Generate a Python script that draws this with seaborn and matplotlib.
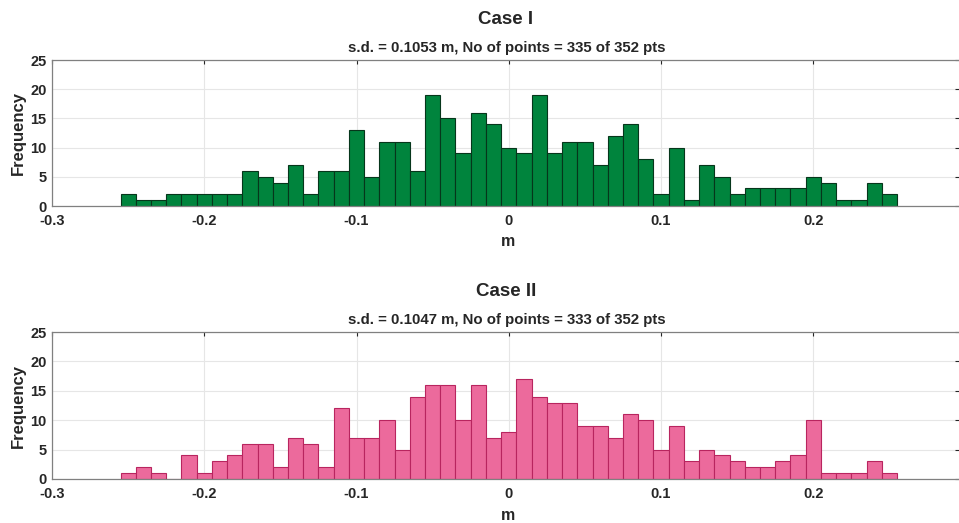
import numpy as np
import pandas as pd
import matplotlib
matplotlib.use("Agg")
import matplotlib.pyplot as plt
import seaborn as sns

# ---- data ----
bin_edges = [round(-0.255 + 0.01 * k, 4) for k in range(52)]
case1_counts = [2, 1, 1, 2, 2, 2, 2, 2, 6, 5, 4, 7, 2, 6, 6, 13, 5, 11, 11, 6,
                19, 15, 9, 16, 14, 10, 9, 19, 9, 11, 11, 7, 12, 14, 8, 2, 10, 1,
                7, 5, 2, 3, 3, 3, 3, 5, 4, 1, 1, 4, 2]
case2_counts = [1, 2, 1, 0, 4, 1, 3, 4, 6, 6, 2, 7, 6, 2, 12, 7, 7, 10, 5, 14,
                16, 16, 10, 16, 7, 8, 17, 14, 13, 13, 9, 9, 7, 11, 10, 5, 9, 3,
                5, 4, 3, 2, 2, 3, 4, 10, 1, 1, 1, 3, 1]
titles = ["Case I", "Case II"]
subtitles = ["s.d. = 0.1053 m, No of points = 335 of 352 pts",
             "s.d. = 0.1047 m, No of points = 333 of 352 pts"]
x_ticks = [-0.3, -0.2, -0.1, 0, 0.1, 0.2]
x_tick_labels = ["-0.3", "-0.2", "-0.1", "0", "0.1", "0.2"]
y_ticks = [0, 5, 10, 15, 20, 25]

edges = np.array(bin_edges)
centers = (edges[:-1] + edges[1:]) / 2
df1 = pd.DataFrame({"m": centers, "count": case1_counts})
df2 = pd.DataFrame({"m": centers, "count": case2_counts})

sns.set_style("white")
plt.rcParams['font.family'] = ['Liberation Sans', 'DejaVu Sans']
plt.rcParams['font.weight'] = 'bold'

fig = plt.figure(figsize=(9.59, 5.23), dpi=100)
W, H = 959, 523

def px_axes(left, top, right, bottom):
    return fig.add_axes([left / W, 1 - bottom / H, (right - left) / W, (bottom - top) / H])

ax1 = px_axes(52, 60, 959, 206)
ax2 = px_axes(52, 332, 959, 479)

specs = [
    (ax1, df1, "#00843D", "#06361B", 0, 60, 206),
    (ax2, df2, "#EC6A9C", "#B8255F", 1, 332, 479),
]

for ax, df, fc, ec, i, top, bottom in specs:
    sns.histplot(data=df, x="m", weights="count", bins=list(bin_edges), ax=ax,
                 color=fc, edgecolor=ec, linewidth=0.8, alpha=1.0)
    ax.set_xlim(-0.3, 0.2957)
    ax.set_ylim(0, 25)
    ax.set_xticks(x_ticks)
    ax.set_xticklabels(x_tick_labels)
    ax.set_yticks(y_ticks)
    ax.grid(True, color="#e6e6e6", linewidth=0.8)
    ax.set_axisbelow(True)
    ax.tick_params(axis="both", direction="in", length=3, width=0.8,
                   colors="#262626", labelsize=10.5, top=True, right=True)
    ax.tick_params(axis="x", pad=6)
    ax.tick_params(axis="y", pad=4)
    for lab in ax.get_xticklabels() + ax.get_yticklabels():
        lab.set_fontweight("bold")
    for s in ["left", "bottom", "top"]:
        ax.spines[s].set_visible(True)
        ax.spines[s].set_color("#808080")
        ax.spines[s].set_linewidth(0.9)
    ax.spines["right"].set_visible(False)
    ax.set_xlabel("")
    ax.set_ylabel("Frequency", fontsize=12, fontweight="bold", labelpad=3)
    fig.text(506 / W, 1 - (top - 41) / H, titles[i], ha="center", va="center",
             fontsize=13.5, fontweight="bold")
    fig.text(507 / W, 1 - (top - 12) / H, subtitles[i], ha="center", va="center",
             fontsize=10.8, fontweight="bold")
    fig.text(508 / W, 1 - (bottom + 36) / H, "m", ha="center", va="center",
             fontsize=11.5, fontweight="bold")

fig.savefig("out.png", dpi=100)
